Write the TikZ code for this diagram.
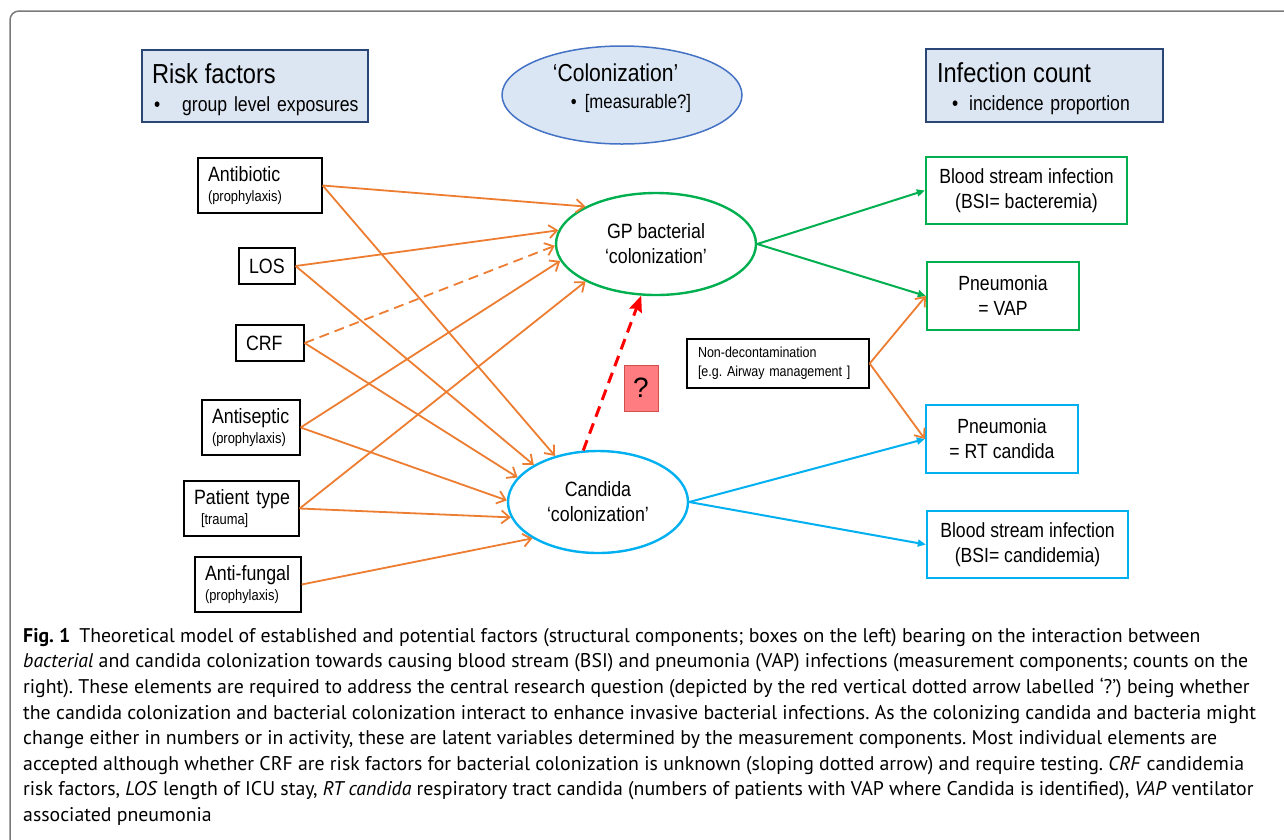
\documentclass[tikz,border=0pt]{standalone}
\usepackage{fontspec}
\setmainfont{Liberation Sans}
\newfontfamily\arl[FakeStretch=0.86]{Liberation Sans}
\newfontfamily\capfont{PT Sans}
\usetikzlibrary{arrows.meta,shapes.geometric}
\frenchspacing

\newcommand{\fsize}[2]{\fontsize{#1}{#2}\selectfont}

\definecolor{riskorange}{HTML}{ED7D31}
\definecolor{bactgreen}{HTML}{00B050}
\definecolor{candblue}{HTML}{00B0F0}
\definecolor{headfill}{HTML}{DCE6F2}
\definecolor{headdraw}{HTML}{2A4677}
\definecolor{ellfill}{HTML}{DAE6F4}
\definecolor{elldraw}{HTML}{4472C4}
\definecolor{qfill}{HTML}{FF7C80}
\definecolor{qdraw}{HTML}{D0504D}
\definecolor{framegray}{HTML}{7A7A7A}

\tikzset{
  headbox/.style={draw=headdraw, fill=headfill, line width=2.4pt, align=left, inner xsep=10pt, inner ysep=0pt, minimum height=72pt, font=\arl\fsize{20.5}{28}},
  factor/.style={draw=black, line width=1.3pt, fill=white, align=left, inner xsep=10pt, inner ysep=0pt, font=\arl\fsize{20.7}{20}},
  outbox/.style={line width=2.4pt, fill=white, align=center, inner sep=0pt, font=\arl\fsize{20.5}{25}},
  colo/.style={ellipse, line width=2.4pt, fill=white, align=center, inner sep=0pt, minimum height=102pt, font=\arl\fsize{20.7}{25}},
  toorange/.style={draw=riskorange, line width=1.8pt, -{Straight Barb[length=8pt,width=13pt]}},
  togreen/.style={draw=bactgreen, line width=2pt, -{Triangle[length=8pt,width=7pt]}},
  toblue/.style={draw=candblue, line width=2pt, -{Triangle[length=8pt,width=7pt]}}
}

\begin{document}
\begin{tikzpicture}[x=1pt,y=-1pt]
\useasboundingbox (0,0) rectangle (1284,839);
\clip (0,0) rectangle (1284,839);
\fill[white] (0,0) rectangle (1284,839);

\draw[framegray, line width=1.5pt, rounded corners=9pt] (10,11) rectangle (1320,860); %outer frame

% headings
\node[headbox, text width=206pt] (risk) at (255,86) {\mbox{\rule{0pt}{27pt}\fsize{27.5}{28}Risk factors}\\\mbox{\hspace{2pt}\textbullet\hspace{22pt}group level exposures}};
\node[ellipse, draw=elldraw, fill=ellfill, line width=1.5pt, minimum width=240pt, minimum height=98pt, inner sep=0pt, align=left, font=\arl\fsize{19.5}{27}] (colon) at (622,95) {\mbox{\fsize{24.5}{27}‘Colonization’}\\\mbox{\hspace{18pt}\textbullet\hspace{8pt}[measurable?]\rule[-18pt]{0pt}{18pt}}};
\node[headbox, text width=215pt, inner xsep=11pt, minimum height=73pt] (count) at (1044.5,85.5) {\mbox{\rule{0pt}{27pt}\fsize{27.5}{28}Infection count}\\\mbox{\hspace{15pt}\textbullet\hspace{11pt}incidence proportion}};

% risk factors
\node[factor, text width=104pt, minimum height=55pt] (abx) at (260,185.5) {Antibiotic\\\mbox{\fsize{15}{16}(prophylaxis)}};
\node[factor, text width=36pt, minimum height=36pt] (los) at (267,266) {LOS};
\node[factor, text width=48pt, minimum height=36pt] (crf) at (270,343) {CRF};
\node[factor, text width=78pt, minimum height=55pt] (asept) at (251,427.5) {\mbox{Antiseptic}\\\mbox{\fsize{15}{16}(prophylaxis)}};
\node[factor, text width=95pt, minimum height=55pt] (ptype) at (241.5,508.5) {\mbox{Patient type}\\\mbox{\hspace{7pt}\fsize{15}{16}[trauma]}};
\node[factor, text width=86pt, minimum height=55pt] (afung) at (248,584.5) {\mbox{Anti-fungal}\\\mbox{\fsize{15}{16}(prophylaxis)}};

% colonization
\node[colo, draw=bactgreen, minimum width=200pt] (gp) at (656,244) {GP bacterial\\‘colonization’};
\node[colo, draw=candblue, minimum width=180pt] (cand) at (598,502) {Candida\\‘colonization’};
\node[draw=qdraw, fill=qfill, line width=1pt, minimum width=34pt, minimum height=46pt, inner sep=0pt, font=\fsize{28}{28}] (quest) at (641,388) {?};
\node[factor, text width=160pt, inner xsep=11pt, minimum height=49pt, font=\arl\fsize{14.5}{19}] (nondec) at (778,363.5) {\mbox{Non-decontamination}\\\mbox{[e.g. Airway management ]}};

% infections
\node[outbox, draw=bactgreen, minimum width=201pt, minimum height=67pt] (bsib) at (1026.5,190.5) {Blood stream infection\\(BSI= bacteremia)};
\node[outbox, draw=bactgreen, minimum width=152pt, minimum height=68pt] (vap) at (1003,296) {Pneumonia\\= VAP};
\node[outbox, draw=candblue, minimum width=152pt, minimum height=68pt] (rtc) at (1002,439) {Pneumonia\\= RT candida};
\node[outbox, draw=candblue, minimum width=201pt, minimum height=67pt] (bsic) at (1027.5,544.5) {Blood stream infection\\(BSI= candidemia)};

% arrows from risk factors
\draw[toorange] (abx.east) -- (gp.152);
\draw[toorange] (abx.east) -- (cand.133);
\draw[toorange] (los.east) -- (gp.172);
\draw[toorange] (los.east) -- (cand.150);
\draw[toorange, dash pattern=on 10pt off 6pt] (crf.east) -- (gp.181);
\draw[toorange] (crf.east) -- (cand.163);
\draw[toorange] (asept.east) -- (gp.190);
\draw[toorange] (asept.east) -- (cand.179);
\draw[toorange] (ptype.east) -- (gp.208);
\draw[toorange] (ptype.east) -- (cand.190);
\draw[toorange] (afung.east) -- (cand.209);

\draw[red, line width=3pt, dash pattern=on 11pt off 7pt, -{Stealth[length=16pt,width=13pt,inset=2pt]}] (cand.106) -- (gp.254);

% arrows to infections
\draw[togreen] (gp.east) -- (bsib.west);
\draw[togreen] (gp.east) -- (vap.west);
\draw[toorange] (nondec.east) -- (vap.west);
\draw[toorange] (nondec.east) -- (rtc.west);
\draw[toblue] (cand.east) -- (rtc.west);
\draw[toblue] (cand.east) -- (bsic.west);

% caption
\node[anchor=north west, inner sep=0pt, align=left, font=\capfont\fsize{19.8}{25.6}] (caption) at (23,628) {\textbf{Fig. 1}\hspace{9pt}Theoretical model of established and potential factors (structural components; boxes on the left) bearing on the interaction between\\
\textit{bacterial} and candida colonization towards causing blood stream (BSI) and pneumonia (VAP) infections (measurement components; counts on the\\
right). These elements are required to address the central research question (depicted by the red vertical dotted arrow labelled ‘?’) being whether\\
the candida colonization and bacterial colonization interact to enhance invasive bacterial infections. As the colonizing candida and bacteria might\\
change either in numbers or in activity, these are latent variables determined by the measurement components. Most individual elements are\\
accepted although whether CRF are risk factors for bacterial colonization is unknown (sloping dotted arrow) and require testing. \textit{CRF} candidemia\\
risk factors, \textit{LOS} length of ICU stay, \textit{RT candida} respiratory tract candida (numbers of patients with VAP where Candida is identified), \textit{VAP} ventilator\\
associated pneumonia};

\end{tikzpicture}
\end{document}
